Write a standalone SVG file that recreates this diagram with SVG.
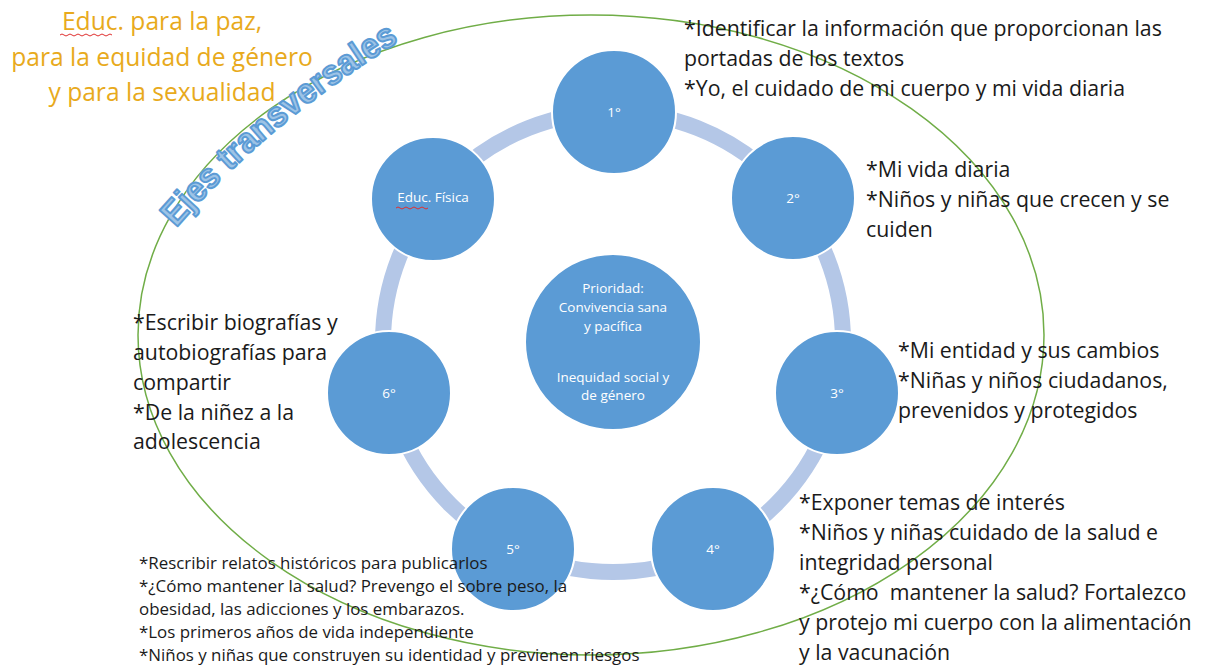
<svg xmlns="http://www.w3.org/2000/svg" width="1211" height="667" viewBox="0 0 1211 667">
<style>
  .node { fill: #5B9BD5; stroke: #FFFFFF; stroke-width: 2; }
  .ntxt { font-family: "Open Sans", "Noto Sans", sans-serif; font-size: 13.5px; fill: #FFFFFF; text-anchor: middle; }
  .body { font-family: "Open Sans", "Noto Sans", sans-serif; font-size: 21.3px; fill: #1A1A1A; }
  .small { font-family: "Open Sans", "Noto Sans", sans-serif; font-size: 16.9px; fill: #1A1A1A; }
  .gold { font-family: "Open Sans", "Noto Sans", sans-serif; font-size: 24.6px; fill: #E8AA1C; text-anchor: middle; }
  .squig { fill: none; stroke: #E03030; stroke-width: 1; }
</style>
<defs>
  <path id="arcpath" d="M 176 228 Q 272 118 408 36"/>
</defs>
<rect width="1211" height="667" fill="#FFFFFF"/>

<g id="connectors">
  <circle cx="613" cy="342" r="230" fill="none" stroke="#B4C7E7" stroke-width="16"/>
</g>

<g id="center">
  <circle class="node" cx="613" cy="342" r="88"/>
  <text class="ntxt" x="613" y="293">Prioridad:</text>
  <text class="ntxt" x="613" y="312">Convivencia sana</text>
  <text class="ntxt" x="613" y="331">y pacífica</text>
  <text class="ntxt" x="613" y="382">Inequidad social y</text>
  <text class="ntxt" x="613" y="400">de género</text>
</g>
<g id="n1"><circle class="node" cx="614" cy="112" r="62"/><text class="ntxt" x="614" y="117">1°</text></g>
<g id="n2"><circle class="node" cx="793" cy="198" r="62"/><text class="ntxt" x="793" y="203">2°</text></g>
<g id="n3"><circle class="node" cx="837" cy="393" r="62"/><text class="ntxt" x="837" y="398">3°</text></g>
<g id="n4"><circle class="node" cx="713" cy="549" r="62"/><text class="ntxt" x="713" y="554">4°</text></g>
<g id="n5"><circle class="node" cx="513" cy="549" r="62"/><text class="ntxt" x="513" y="554">5°</text></g>
<g id="n6"><circle class="node" cx="389" cy="393" r="62"/><text class="ntxt" x="389" y="398">6°</text></g>
<g id="nEF">
  <circle class="node" cx="433" cy="199" r="62"/>
  <text class="ntxt" x="433" y="202">Educ. Física</text>
  <path class="squig" d="M396 208 q2 -2 4 0 t4 0 t4 0 t4 0 t4 0 t4 0 t4 0 t4 0"/>
</g>

<g id="ejes">
  <ellipse cx="591" cy="335" rx="453" ry="320" fill="none" stroke="#70AD47" stroke-width="1.5"/>
  <text font-family="'Liberation Sans', Arial, sans-serif" font-weight="bold" font-size="35" fill="#9DC3E6" stroke="#5B9BD5" stroke-width="2" stroke-linejoin="round">
    <textPath href="#arcpath" textLength="292" lengthAdjust="spacingAndGlyphs">Ejes transversales</textPath>
  </text>
</g>

<g id="title">
  <text class="gold" x="162" y="30">Educ. para la paz,</text>
  <text class="gold" x="162" y="66">para la equidad de género</text>
  <text class="gold" x="162" y="101">y para la sexualidad</text>
  <path class="squig" d="M60 35 q2 -2 4 0 t4 0 t4 0 t4 0 t4 0 t4 0 t4 0 t4 0 t4 0 t4 0 t4 0 t4 0 t4 0"/>
</g>

<g id="t1">
  <text class="body" x="684" y="36">*Identificar la información que proporcionan las</text>
  <text class="body" x="684" y="66">portadas de los textos</text>
  <text class="body" x="684" y="96">*Yo, el cuidado de mi cuerpo y mi vida diaria</text>
</g>
<g id="t2">
  <text class="body" x="866" y="177">*Mi vida diaria</text>
  <text class="body" x="866" y="207">*Niños y niñas que crecen y se</text>
  <text class="body" x="866" y="237">cuiden</text>
</g>
<g id="t3">
  <text class="body" x="898" y="358">*Mi entidad y sus cambios</text>
  <text class="body" x="898" y="388">*Niñas y niños ciudadanos,</text>
  <text class="body" x="898" y="418">prevenidos y protegidos</text>
</g>
<g id="t4">
  <text class="body" x="799" y="510">*Exponer temas de interés</text>
  <text class="body" x="799" y="540">*Niños y niñas cuidado de la salud e</text>
  <text class="body" x="799" y="570">integridad personal</text>
  <text class="body" x="799" y="600" xml:space="preserve">*¿Cómo  mantener la salud? Fortalezco</text>
  <text class="body" x="799" y="630">y protejo mi cuerpo con la alimentación</text>
  <text class="body" x="799" y="660">y la vacunación</text>
</g>
<g id="t6">
  <text class="body" x="133" y="330">*Escribir biografías y</text>
  <text class="body" x="133" y="360">autobiografías para</text>
  <text class="body" x="133" y="390">compartir</text>
  <text class="body" x="133" y="420">*De la niñez a la</text>
  <text class="body" x="133" y="449">adolescencia</text>
</g>
<g id="t5">
  <text class="small" x="139" y="569">*Rescribir relatos históricos para publicarlos</text>
  <text class="small" x="139" y="592">*¿Cómo mantener la salud? Prevengo el sobre peso, la</text>
  <text class="small" x="139" y="615">obesidad, las adicciones y los embarazos.</text>
  <text class="small" x="139" y="638">*Los primeros años de vida independiente</text>
  <text class="small" x="139" y="661">*Niños y niñas que construyen su identidad y previenen riesgos</text>
</g>
</svg>
